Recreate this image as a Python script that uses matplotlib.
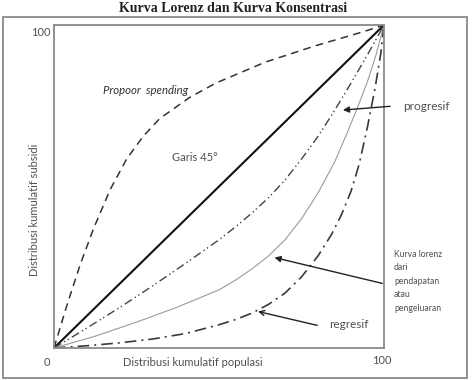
import matplotlib.pyplot as plt
from matplotlib.patches import Rectangle

# curve points (x = populasi %, y = subsidi %)
propoor_x = [0, 4, 8, 12, 17, 22, 27, 32, 41, 49, 64, 79, 94, 100]
propoor_y = [0, 13.5, 26, 37, 49, 58.5, 65.5, 71, 77.5, 82, 88.5, 93.5, 98, 100]

garis_x = [0, 100]
garis_y = [0, 100]

progresif_x = [0, 10, 20, 30, 40, 50, 55, 60, 65, 70, 75, 80, 85, 90, 95, 100]
progresif_y = [0, 6.2, 12.6, 19.3, 26.3, 33.5, 37.5, 41.8, 46.5, 52, 58.5, 65.5, 73.5, 82, 90.8, 100]

lorenz_x = [0, 12, 25, 37, 50, 55, 60, 65, 70, 75, 80, 85, 89, 92, 95, 97.5, 100]
lorenz_y = [0, 3.5, 8, 12.5, 18, 21, 24.5, 28.5, 33.5, 40, 48, 57.5, 67, 74.5, 82.5, 90.5, 100]

regresif_x = [0, 10, 20, 30, 40, 50, 55, 60, 65, 70, 75, 80, 84, 87, 90, 92.5, 95, 97.3, 99, 100]
regresif_y = [0, 0.7, 1.6, 2.8, 4.5, 7.2, 8.8, 10.8, 13.5, 17, 22, 28.5, 35, 41, 48.5, 57, 68.5, 80.5, 91, 100]

lorenz_text = "Kurva lorenz\ndari\npendapatan\natau\npengeluaran"

plt.rcParams['font.family'] = ['Lato', 'DejaVu Sans']

fig = plt.figure(figsize=(4.72, 3.8), dpi=100)
fig.patches.append(Rectangle((3 / 472, 2 / 380), 464 / 472, 361 / 380,
                             transform=fig.transFigure, fill=False,
                             edgecolor='#8a8a8a', lw=1.3))
fig.text(0.493, 0.978, 'Kurva Lorenz dan Kurva Konsentrasi', ha='center', va='center',
         family='Liberation Serif', fontweight='bold', fontsize=10, color='#222222')

ax = fig.add_axes([54 / 472, 32 / 380, 330 / 472, 323 / 380])
ax.set_xlim(0, 100)
ax.set_ylim(0, 100)
ax.set_xticks([])
ax.set_yticks([])
for s in ax.spines.values():
    s.set_color('#8a8a8a')
    s.set_linewidth(1.3)

ax.plot(propoor_x, propoor_y, color='#333333', lw=1.1, dashes=(5, 3.5))
ax.plot(garis_x, garis_y, color='#111111', lw=1.5)
ax.plot(progresif_x, progresif_y, color='#444444', lw=1.0, dashes=(6, 2.5, 1, 2, 1, 2.5))
ax.plot(lorenz_x, lorenz_y, color='#9a9a9a', lw=0.8)
ax.plot(regresif_x, regresif_y, color='#3a3a3a', lw=1.2, dashes=(7, 3, 1.2, 3))

txt = '#505050'
ax.text(27.6, 79.6, 'Propoor  spending', style='italic', ha='center', va='center',
        fontsize=8.2, color='#333333')
ax.text(42.7, 59.1, 'Garis 45°', ha='center', va='center', fontsize=8, color=txt)

ax.text(105.8, 74.9, 'progresif', ha='left', va='center', fontsize=8.5, color=txt, clip_on=False)
ax.annotate('', xy=(86.7, 73.6), xytext=(102.7, 74.9), annotation_clip=False,
            arrowprops=dict(arrowstyle='-|>', color='#222222', lw=1.0, mutation_scale=9))

ax.text(103, 20.7, lorenz_text, ha='left', va='center', fontsize=6.2,
        color=txt, linespacing=1.65, clip_on=False)
ax.annotate('', xy=(66, 28.2), xytext=(100.3, 19.8), annotation_clip=False,
            arrowprops=dict(arrowstyle='-|>', color='#222222', lw=1.0, mutation_scale=9))

ax.text(89.4, 7.4, 'regresif', ha='center', va='center', fontsize=8.5, color=txt)
ax.annotate('', xy=(61, 11.5), xytext=(80.6, 6.8),
            arrowprops=dict(arrowstyle='->', color='#222222', lw=1.0, mutation_scale=9))

ax.text(-2.1, -4.6, '0', ha='center', va='center', fontsize=8, color=txt, clip_on=False)
ax.text(99.4, -4.0, '100', ha='center', va='center', fontsize=8, color=txt, clip_on=False)
ax.text(-3.9, 97.8, '100', ha='center', va='center', fontsize=8, color=txt, clip_on=False)
ax.text(42.1, -4.6, 'Distribusi kumulatif populasi', ha='center', va='center',
        fontsize=8, color=txt, clip_on=False)
ax.text(-5.8, 42.7, 'Distribusi kumulatif subsidi', ha='center', va='center', rotation=90,
        fontsize=8, color=txt, clip_on=False)

fig.savefig('out.png', dpi=100)
